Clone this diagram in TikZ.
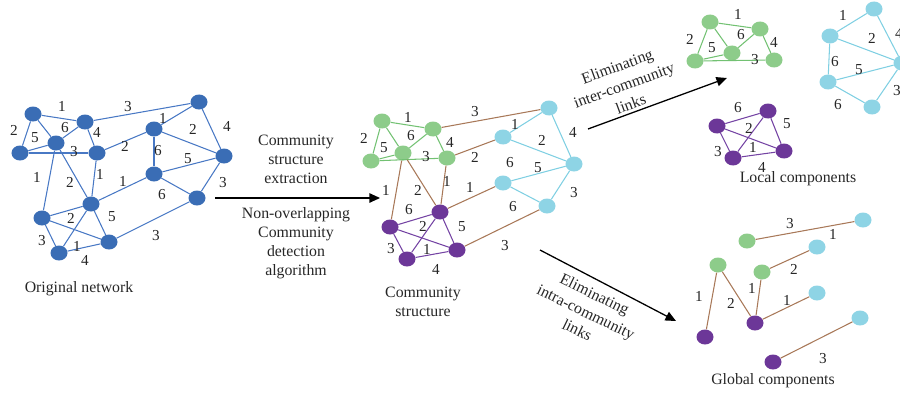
\documentclass[tikz,border=0pt]{standalone}
\usepackage{fontspec}
\setmainfont{Liberation Serif}
\usetikzlibrary{shapes.geometric,arrows.meta}

\definecolor{nblue}{HTML}{3A6DB5}
\definecolor{eblue}{HTML}{4878C4}
\definecolor{ngreen}{HTML}{8DCC8A}
\definecolor{egreen}{HTML}{72C172}
\definecolor{ncyan}{HTML}{8ED4E5}
\definecolor{ecyan}{HTML}{7FCFE2}
\definecolor{npurple}{HTML}{6C3798}
\definecolor{epurple}{HTML}{7443A3}
\definecolor{ebrown}{HTML}{A87858}

\begin{document}
\begin{tikzpicture}[x=0.03cm,y=-0.03cm,
  vtx/.style={ellipse,minimum width=0.51cm,minimum height=0.45cm,inner sep=0pt},
  bv/.style={vtx,fill=nblue},
  gv/.style={vtx,fill=ngreen},
  cv/.style={vtx,fill=ncyan},
  pv/.style={vtx,fill=npurple},
  be/.style={draw=eblue,line width=0.9pt},
  ge/.style={draw=egreen,line width=0.9pt},
  ce/.style={draw=ecyan,line width=0.9pt},
  pe/.style={draw=epurple,line width=0.9pt},
  re/.style={draw=ebrown,line width=0.9pt},
  lbl/.style={font=\fontsize{13}{15}\selectfont,inner sep=0pt,text=black!85},
  txt/.style={font=\fontsize{13.5}{16.2}\selectfont,align=center,inner sep=0pt,text=black!85},
  rtxt/.style={txt,font=\fontsize{13.5}{17}\selectfont},
  flow/.style={draw=black,line width=1.1pt,-{Triangle[length=9pt,width=8pt]}}]
\useasboundingbox (0,0) rectangle (900,394);
\clip (0,0) rectangle (900,394);

% ---------- original network ----------
\foreach \n/\x/\y in {A/33/114,B/85/122,C/20/153,D/56/143,E/97/153,F/199/102,G/154/129,
  H/224/156,I/154/174,J/197/198,K/91/204,L/42/218,M/109/242,N/59/253}
  \node[bv] (o\n) at (\x,\y) {};
\foreach \a/\b in {A/B,A/C,A/D,C/D,D/B,C/E,B/E,B/F,E/G,G/F,G/H,F/H,G/I,I/H,I/J,H/J,
  E/K,D/K,D/L,K/I,L/K,L/M,K/N,N/M,L/N,K/M,M/J}
  \draw[be] (o\a) -- (o\b);
\foreach \t/\x/\y [count=\i] in {1/62/106,3/128/107,2/14/130,6/65/128,4/97/132,5/35/138,
  1/163/118,2/193/129,4/227/126,3/74/152,2/125/146,6/158/151,5/188/159,1/37/177,
  2/70/182,1/100/174,1/123/181,3/223/183,6/162/195,2/71/218,5/112/217,3/42/241,
  1/77/246,4/85/260,3/156/236}
  \node[lbl] (ol\i) at (\x,\y) {\t};
\node[txt] (otitle) at (79,289) {Original network};

% ---------- extraction step ----------
\coordinate (s1) at (215,198);
\coordinate (s2) at (380,198);
\draw[flow] (s1) -- (s2);
\node[txt] (sup) at (296,159) {Community\\structure\\extraction};
\node[txt] (sdown) at (296,243.5) {Non-overlapping\\Community\\detection\\algorithm};

% ---------- community structure ----------
\foreach \n/\x/\y in {1/382/121,2/433/129,3/371/161,4/403/153,5/447/158}
  \node[gv] (g\n) at (\x,\y) {};
\foreach \n/\x/\y in {1/549/108,2/503/137,3/574/164,4/503/183,5/547/206}
  \node[cv] (c\n) at (\x,\y) {};
\foreach \n/\x/\y in {1/440/212,2/390/227,3/407/259,4/457/250}
  \node[pv] (p\n) at (\x,\y) {};
\foreach \a/\b in {1/2,1/3,1/4,3/4,4/2,3/5,2/5}
  \draw[ge] (g\a) -- (g\b);
\foreach \a/\b in {2/1,2/3,1/3,4/3,4/5,3/5}
  \draw[ce] (c\a) -- (c\b);
\foreach \a/\b in {2/1,2/4,1/3,1/4,2/3,3/4}
  \draw[pe] (p\a) -- (p\b);
\draw[re] (g2) -- (c1);
\draw[re] (g5) -- (c2);
\draw[re] (g4) -- (p2);
\draw[re] (g4) -- (p1);
\draw[re] (g5) -- (p1);
\draw[re] (p1) -- (c4);
\draw[re] (p4) -- (c5);
\foreach \t/\x/\y [count=\i] in {1/408/117,2/364/138,6/411/136,5/384/148,4/450/142,
  3/426/157,3/475/112,2/475/157,1/515/124,2/542/140,4/573/132,6/510/163,5/538/168,
  3/574/193,6/513/207,1/386/190,2/418/190,1/447/181,1/470/187,6/409/210,2/423/226,
  5/462/227,3/391/249,1/427/249,4/436/269,3/505/246}
  \node[lbl] (cl\i) at (\x,\y) {\t};
\node[txt] (ctitle) at (423,301.5) {Community\\structure};

% ---------- elimination steps ----------
\coordinate (u1) at (588,129);
\coordinate (u2) at (727,78);
\draw[flow] (u1) -- (u2);
\node[rtxt,rotate=20] (utext) at (624,85) {Eliminating\\inter-community\\links};
\coordinate (d1) at (540,250);
\coordinate (d2) at (676,321);
\draw[flow] (d1) -- (d2);
\node[rtxt,rotate=-26] (dtext) at (586,312) {Eliminating\\intra-community\\links};

% ---------- local components ----------
\foreach \n/\x/\y in {1/710/22,2/760/29,3/695/61,4/732/53,5/774/60}
  \node[gv] (lg\n) at (\x,\y) {};
\foreach \a/\b in {1/2,1/3,1/4,3/4,4/2,3/5,2/5}
  \draw[ge] (lg\a) -- (lg\b);
\foreach \n/\x/\y in {1/874/9,2/830/36,3/902/63,4/828/82,5/872/107}
  \node[cv] (lc\n) at (\x,\y) {};
\foreach \a/\b in {2/1,2/3,1/3,4/3,2/4,4/5,3/5}
  \draw[ce] (lc\a) -- (lc\b);
\foreach \n/\x/\y in {1/768/111,2/717/126,3/733/158,4/784/151}
  \node[pv] (lp\n) at (\x,\y) {};
\foreach \a/\b in {2/1,2/4,1/3,1/4,2/3,3/4}
  \draw[pe] (lp\a) -- (lp\b);
\foreach \t/\x/\y [count=\i] in {1/738/14,2/690/39,5/712/48,6/741/35,4/774/42,3/755/60,
  1/843/15,2/872/38,4/899/33,6/835/62,5/859/70,6/838/105,3/897/91,
  6/738/108,2/749/128,5/787/124,3/718/152,1/753/147,4/762/167}
  \node[lbl] (ll\i) at (\x,\y) {\t};
\node[txt] (ltitle) at (798,179) {Local components};

% ---------- global components ----------
\node[gv] (gg1) at (747,241) {};
\node[gv] (gg2) at (718,265) {};
\node[gv] (gg3) at (762,272) {};
\node[cv] (gc1) at (863,220) {};
\node[cv] (gc2) at (817,247) {};
\node[cv] (gc3) at (817,293) {};
\node[cv] (gc4) at (860,318) {};
\node[pv] (gp1) at (755,323) {};
\node[pv] (gp2) at (705,337) {};
\node[pv] (gp3) at (773,362) {};
\draw[re] (gg1) -- (gc1);
\draw[re] (gg3) -- (gc2);
\draw[re] (gg2) -- (gp2);
\draw[re] (gg2) -- (gp1);
\draw[re] (gg3) -- (gp1);
\draw[re] (gp1) -- (gc3);
\draw[re] (gp3) -- (gc4);
\foreach \t/\x/\y [count=\i] in {3/790/224,1/833/234,2/794/269,1/699/296,2/731/303,
  1/752/288,1/787/300,3/823/359}
  \node[lbl] (gl\i) at (\x,\y) {\t};
\node[txt] (gtitle) at (773,381) {Global components};
\end{tikzpicture}
\end{document}
